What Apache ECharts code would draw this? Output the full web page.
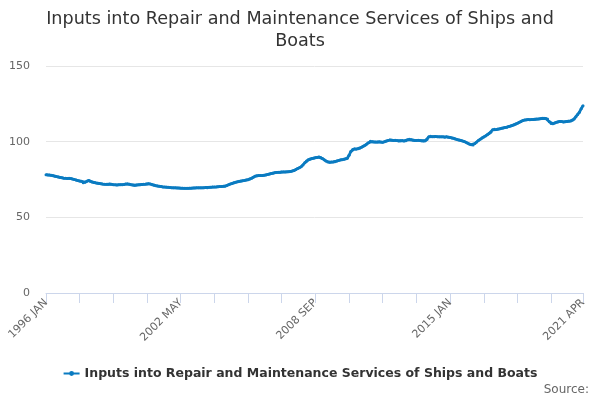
<!DOCTYPE html>
<html>
<head>
<meta charset="utf-8">
<script src="https://cdn.jsdelivr.net/npm/echarts@6/dist/echarts.min.js"></script>
<style>
html,body{margin:0;padding:0;background:#fff;}
#c{width:600px;height:400px;}
</style>
</head>
<body>
<div id="c"></div>
<script>
var titleText = 'Inputs into Repair and Maintenance Services of Ships and\nBoats';
var seriesName = 'Inputs into Repair and Maintenance Services of Ships and Boats';
var monthNames = ['JAN','FEB','MAR','APR','MAY','JUN','JUL','AUG','SEP','OCT','NOV','DEC'];
var startYear = 1996;
var yTicks = [0, 50, 100, 150];

var v1996 = [78.2, 78.0, 77.9, 77.8, 77.5, 77.2, 76.9, 76.6, 76.4, 76.1, 75.9, 75.8];
var v1997 = [75.7, 75.8, 75.6, 75.4, 75.0, 74.6, 74.3, 74.0, 73.8, 72.8, 73.2, 73.8];
var v1998 = [74.4, 73.9, 73.4, 73.1, 72.8, 72.6, 72.4, 72.2, 72.0, 71.9, 71.8, 71.9];
var v1999 = [72.0, 71.8, 71.6, 71.5, 71.4, 71.5, 71.6, 71.5, 71.7, 72.0, 72.1, 71.9];
var v2000 = [71.6, 71.3, 71.2, 71.4, 71.5, 71.6, 71.7, 71.8, 71.9, 72.0, 72.2, 72.0];
var v2001 = [71.6, 71.2, 70.9, 70.7, 70.5, 70.3, 70.1, 70.0, 69.9, 69.8, 69.7, 69.6];
var v2002 = [69.5, 69.5, 69.4, 69.4, 69.3, 69.3, 69.2, 69.2, 69.2, 69.3, 69.3, 69.4];
var v2003 = [69.4, 69.5, 69.5, 69.6, 69.5, 69.6, 69.7, 69.6, 69.8, 69.9, 70.0, 70.0];
var v2004 = [70.1, 70.2, 70.3, 70.4, 70.5, 70.6, 71.0, 71.5, 72.0, 72.4, 72.8, 73.2];
var v2005 = [73.5, 73.8, 74.0, 74.2, 74.4, 74.7, 74.9, 75.3, 75.8, 76.5, 77.2, 77.5];
var v2006 = [77.6, 77.7, 77.6, 77.8, 78.0, 78.3, 78.6, 78.9, 79.2, 79.5, 79.7, 79.8];
var v2007 = [79.8, 79.9, 80.0, 80.0, 80.1, 80.2, 80.3, 80.6, 81.0, 81.6, 82.2, 82.8];
var v2008 = [83.5, 84.5, 86.0, 87.2, 88.0, 88.5, 88.8, 89.1, 89.4, 89.6, 89.8, 89.5];
var v2009 = [88.8, 88.0, 87.2, 86.6, 86.4, 86.5, 86.6, 86.8, 87.2, 87.6, 87.9, 88.0];
var v2010 = [88.3, 88.7, 89.0, 91.0, 93.5, 94.8, 95.2, 95.0, 95.4, 95.7, 96.3, 97.0];
var v2011 = [97.6, 98.4, 99.3, 100.2, 100.0, 99.8, 99.7, 99.8, 99.9, 99.8, 99.6, 99.9];
var v2012 = [100.4, 100.8, 101.1, 101.0, 100.8, 100.9, 100.7, 100.5, 100.6, 100.7, 100.5, 100.6];
var v2013 = [101.2, 101.6, 101.3, 101.0, 100.8, 100.7, 100.9, 100.8, 100.6, 100.5, 100.6, 101.5];
var v2014 = [103.2, 103.5, 103.3, 103.2, 103.4, 103.3, 103.2, 103.3, 103.2, 103.0, 103.2, 103.0];
var v2015 = [102.8, 102.5, 102.2, 101.8, 101.4, 101.1, 100.8, 100.5, 100.1, 99.6, 99.0, 98.3];
var v2016 = [98.0, 97.8, 98.8, 99.8, 100.8, 101.6, 102.4, 103.1, 103.8, 104.6, 105.4, 106.2];
var v2017 = [107.8, 108.2, 108.0, 108.3, 108.5, 108.8, 109.1, 109.3, 109.6, 110.0, 110.3, 110.7];
var v2018 = [111.1, 111.6, 112.2, 112.8, 113.4, 114.0, 114.3, 114.5, 114.6, 114.5, 114.6, 114.7];
var v2019 = [114.8, 114.9, 115.0, 115.2, 115.4, 115.5, 115.3, 115.0, 113.2, 112.0, 111.8, 112.3];
var v2020 = [112.8, 113.2, 113.4, 113.3, 113.0, 113.2, 113.4, 113.5, 113.7, 114.2, 115.0, 116.5];
var v2021 = [118.0, 119.5, 121.8, 123.8];

var yearly = [v1996,v1997,v1998,v1999,v2000,v2001,v2002,v2003,v2004,v2005,v2006,v2007,v2008,
  v2009,v2010,v2011,v2012,v2013,v2014,v2015,v2016,v2017,v2018,v2019,v2020,v2021];

var categories = [];
var values = [];
yearly.forEach(function (arr, yi) {
  arr.forEach(function (v, mi) {
    categories.push((startYear + yi) + ' ' + monthNames[mi]);
    values.push(v);
  });
});
var lastIdx = categories.length - 1;

var chart = echarts.init(document.getElementById('c'), null, {renderer: 'canvas'});
chart.setOption({
  animation: false,
  backgroundColor: '#ffffff',
  textStyle: {fontFamily: 'DejaVu Sans'},
  title: {
    text: titleText,
    left: 'center',
    top: 3,
    textStyle: {fontFamily: 'DejaVu Sans', fontSize: 17.6, fontWeight: 'normal', color: '#333333', lineHeight: 22}
  },
  grid: {left: 46, right: 17, top: 66, bottom: 107, containLabel: false},
  legend: {
    bottom: 15,
    left: 'center',
    itemWidth: 16,
    itemHeight: 6,
    itemGap: 8,
    textStyle: {fontFamily: 'DejaVu Sans', fontSize: 12.5, fontWeight: 'bold', color: '#333333'},
    data: [seriesName]
  },
  graphic: [{
    type: 'text',
    right: 11,
    bottom: 4,
    style: {text: 'Source:', fontFamily: 'DejaVu Sans', fontSize: 12, fill: '#666666'}
  }],
  xAxis: {
    type: 'category',
    data: categories,
    boundaryGap: false,
    axisLine: {lineStyle: {color: '#ccd6eb'}},
    axisTick: {
      length: 10,
      lineStyle: {color: '#ccd6eb'},
      interval: function (i) { return i % 19 === 0 || i === lastIdx; }
    },
    axisLabel: {
      rotate: 45,
      fontSize: 11,
      color: '#666666',
      fontFamily: 'DejaVu Sans',
      margin: 8,
      interval: function (i) { return i % 76 === 0 || i === lastIdx; }
    },
    splitLine: {show: false}
  },
  yAxis: {
    type: 'value',
    min: yTicks[0],
    max: yTicks[yTicks.length - 1],
    interval: 50,
    axisLine: {show: false},
    axisTick: {show: false},
    axisLabel: {fontSize: 11, color: '#666666', fontFamily: 'DejaVu Sans', margin: 16},
    splitLine: {lineStyle: {color: '#e6e6e6'}}
  },
  series: [{
    name: seriesName,
    type: 'line',
    data: values,
    color: '#0a7bc1',
    symbol: 'circle',
    symbolSize: 3,
    showSymbol: true,
    showAllSymbol: true,
    lineStyle: {width: 2.8, color: '#0a7bc1'},
    itemStyle: {color: '#0a7bc1'}
  }]
});
</script>
</body>
</html>
